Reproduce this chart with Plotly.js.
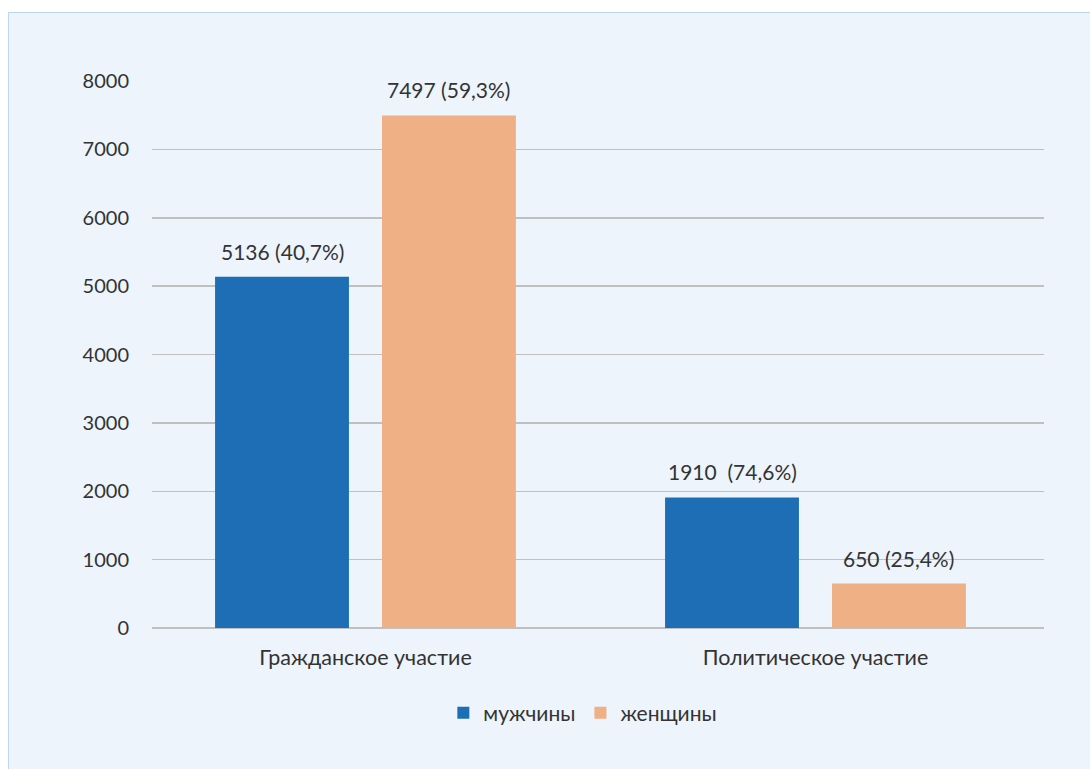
<!DOCTYPE html>
<html>
<head>
<meta charset="utf-8">
<script src="https://cdn.plot.ly/plotly-3.0.1.min.js"></script>
<style>
html,body{margin:0;padding:0;background:#ffffff;width:1090px;height:769px;overflow:hidden;}
#box{position:absolute;left:8px;top:12px;width:1100px;height:800px;background:#edf4fb;border:1px solid #bdd7ee;}
#chart{position:absolute;left:0;top:0;width:1090px;height:769px;}
</style>
</head>
<body>
<div id="box"></div>
<div id="chart"></div>
<script>
const categories = ["Гражданское участие", "Политическое участие"];
const seriesNames = ["мужчины", "женщины"];
const menValues = [5136, 1910];
const womenValues = [7497, 650];
const menLabels = ["5136 (40,7%)", "1910\u00a0\u00a0(74,6%)"];
const womenLabels = ["7497 (59,3%)", "650 (25,4%)"];
const yTicks = [0, 1000, 2000, 3000, 4000, 5000, 6000, 7000, 8000];

const FAM = "Lato, 'Open Sans', sans-serif";
const tickFont = {family: FAM, size: 20, color: "#333333"};
const labelFont = {family: FAM, size: 21, color: "#333333"};
const catFont = {family: FAM, size: 21.5, color: "#333333"};
const legFont = {family: FAM, size: 21, color: "#333333"};

const marginL = 152, marginR = 46, W = 1090;
const xRange = [-0.4744, 1.5078];
const bargap = 0.258;
const catPx = (W - marginL - marginR) / (xRange[1] - xRange[0]);
const slotPx = (1 - bargap) / 2 * catPx;

const traces = [
  {type: "bar", name: seriesNames[0], x: categories, y: menValues,
   marker: {color: "#1e6eb5"}, hoverinfo: "none"},
  {type: "bar", name: seriesNames[1], x: categories, y: womenValues,
   marker: {color: "#efb085"}, hoverinfo: "none"}
];

const annotations = [];
categories.forEach((c, i) => {
  annotations.push({x: c, y: menValues[i], xref: "x", yref: "y", text: menLabels[i], showarrow: false,
    xanchor: "center", yanchor: "bottom", xshift: -slotPx / 2, yshift: 11, font: labelFont});
  annotations.push({x: c, y: womenValues[i], xref: "x", yref: "y", text: womenLabels[i], showarrow: false,
    xanchor: "center", yanchor: "bottom", xshift: slotPx / 2, yshift: 11, font: labelFont});
});

const layout = {
  width: 1090, height: 769,
  paper_bgcolor: "rgba(0,0,0,0)", plot_bgcolor: "rgba(0,0,0,0)",
  margin: {l: marginL, r: marginR, t: 81, b: 141},
  font: tickFont,
  barmode: "group", bargap: bargap, bargroupgap: 0.198,
  showlegend: true,
  legend: {orientation: "h", x: 0.483, xanchor: "center", y: -0.118, yanchor: "top", font: legFont,
           traceorder: "normal", itemwidth: 30},
  annotations: annotations,
  xaxis: {type: "category", range: xRange, tickfont: catFont, showgrid: false, zeroline: false,
          showline: false, ticks: "", ticklabelstandoff: 14},
  yaxis: {range: [0, 8000], tickvals: yTicks, ticktext: yTicks.map(String), tickfont: tickFont,
          showgrid: true, gridcolor: "#c0c0c0", gridwidth: 1.5, zeroline: true, zerolinecolor: "#c0c0c0",
          zerolinewidth: 1.5, showline: false, ticks: "", ticklabelstandoff: 22}
};

Plotly.newPlot("chart", traces, layout, {displayModeBar: false, staticPlot: true});
</script>
</body>
</html>
